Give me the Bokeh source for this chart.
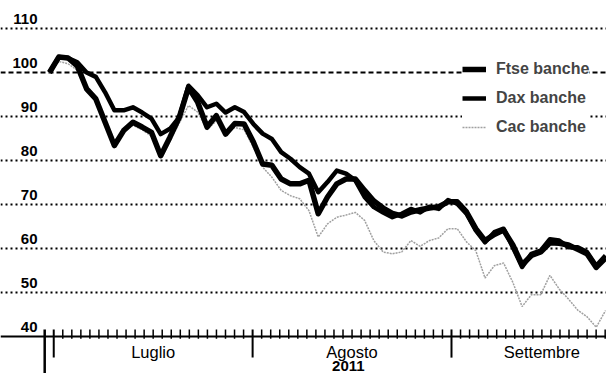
from bokeh.plotting import figure
from bokeh.models import Range1d, Legend, LegendItem, ColumnDataSource
from bokeh.core.properties import value
from bokeh.embed import file_html
from bokeh.resources import INLINE

# ---- data (index = trading day from 30 June 2011, base 100) ----
ftse = [100, 103.5, 103.3, 101.5, 96.3, 94, 88.7, 83.4, 86.8, 88.7,
        87.6, 86.4, 81.1, 85.3, 89.8, 96.6, 93.2, 87.6, 90.2, 86,
        88.4, 88.3, 84.2, 79.2, 78.9, 75.8, 74.7, 74.7, 75.5, 67.9,
        71.7, 74.7, 75.8, 75.8, 73.2, 70.8, 69.2, 68.0, 67.4, 68.3,
        68.8, 69.2, 69.5, 70.6, 70.6, 68.3, 64.5, 61.8, 63.2, 64.2,
        60.8, 56.3, 58.4, 59.2, 61.3, 61.2, 60.8, 59.8, 58.8, 55.7, 57.8]
dax = [100, 103.5, 103.3, 102.3, 100, 99, 95.5, 91.4, 91.4, 92.1,
       90.9, 89.5, 86, 87.2, 89.8, 97, 94.8, 92.1, 92.9, 90.9,
       92.1, 91, 88.3, 86.1, 84.9, 81.9, 80.4, 78.5, 77, 72.8,
       75.1, 77.7, 77, 75.5, 71.7, 69.4, 68.2, 67.1, 67.9, 69,
       68.2, 69.5, 69, 71, 70.2, 67.9, 64.1, 61.4, 63.7, 64.5,
       60.3, 55.8, 58.8, 59.5, 62.1, 61.8, 60.3, 60.3, 59.2, 56.1, 58.4]
cac = [100, 102.5, 102, 100.5, 97, 94.5, 89.5, 84.5, 86.5, 88,
       87, 85.5, 82, 84.5, 88.5, 92.5, 91, 87, 89, 86,
       87.5, 87, 83, 78.5, 76.2, 73.2, 72, 71.3, 68.6, 62.6,
       65.6, 67.1, 67.6, 68.2, 66.4, 61.8, 59.2, 58.8, 59.2, 61.8,
       60.5, 61.8, 62.4, 64.5, 64.5, 61.5, 59.5, 53.3, 56.1, 56.7,
       52.3, 46.8, 49.5, 49.5, 53.9, 50.8, 48.5, 46.0, 44.5, 42.1, 45.9]
days = list(range(len(ftse)))

y_ticks = [40, 50, 60, 70, 80, 90, 100, 110]
y_labels = ["40", "50", "60", "70", "80", "90", "100", "110"]
base_value = 100
months = ["Luglio", "Agosto", "Settembre"]
year = "2011"

FONT = "Liberation Sans"

# ---- figure ----
p = figure(width=606, height=373, output_backend="svg", toolbar_location=None,
           x_range=Range1d(-5.288, 60.106), y_range=Range1d(31.591, 116.364),
           min_border_left=0, min_border_right=0, min_border_top=0, min_border_bottom=0)
p.axis.visible = False
p.grid.visible = False
p.outline_line_color = None
p.background_fill_color = "white"

# gridlines
dotted = [v for v in y_ticks if v not in (y_ticks[0], base_value)]
p.hspan(y=dotted, line_color="black", line_width=2, line_dash="2 3")
p.hspan(y=[base_value], line_color="black", line_width=2, line_dash="5 3")
p.hspan(y=[y_ticks[0]], line_color="black", line_width=2)

# x ticks (one per trading day)
TICK0 = 0.457
STEP = 0.9755
n_ticks = 62
month_idx = [0, 22, 44]
minor_x = [TICK0 + k * STEP for k in range(n_ticks) if k not in month_idx]
p.segment(x0=minor_x, y0=[39.5] * len(minor_x), x1=minor_x, y1=[41.6] * len(minor_x),
          line_color="black", line_width=1.5)
major_x = [TICK0 + k * STEP for k in month_idx]
p.segment(x0=major_x, y0=[35.2] * 3, x1=major_x, y1=[41.6] * 3,
          line_color="black", line_width=2)
long_x = [TICK0 - STEP]
p.segment(x0=long_x, y0=[31.7], x1=long_x, y1=[41.6], line_color="black", line_width=2.5)

# month labels
bounds = month_idx + [64]
mx = [TICK0 + STEP * (bounds[i] + bounds[i + 1]) / 2 for i in range(3)]
p.text(x=mx, y=[36.5] * 3, text=months, text_align="center", text_baseline="middle",
       text_font=value(FONT), text_font_size=value("16.5px"), text_color="black")
p.text(x=[mx[1] - 0.4], y=[33.25], text=[year], text_align="center", text_baseline="middle",
       text_font=value(FONT), text_font_style="bold", text_font_size=value("15px"),
       text_color="black")

# y labels (sitting just above their gridline)
p.text(x=[-1.295] * len(y_ticks), y=y_ticks, text=y_labels, y_offset=-10,
       text_align="right", text_baseline="middle",
       text_font=value(FONT), text_font_style="bold", text_font_size=value("15px"),
       text_color="black")

# series
src = ColumnDataSource(dict(d=days, ftse=ftse, dax=dax, cac=cac))
r_cac = p.line("d", "cac", source=src, line_color="#a0a0a0", line_width=1.5, line_dash="2 1")
r_dax = p.line("d", "dax", source=src, line_color="black", line_width=4.5, line_join="round")
r_ftse = p.line("d", "ftse", source=src, line_color="black", line_width=5.5, line_join="round")

legend = Legend(items=[LegendItem(label="Ftse banche", renderers=[r_ftse]),
                       LegendItem(label="Dax banche", renderers=[r_dax]),
                       LegendItem(label="Cac banche", renderers=[r_cac])],
                location=(462, 235), border_line_color=None,
                background_fill_color="white", background_fill_alpha=1,
                label_text_font=FONT, label_text_font_style="bold",
                label_text_font_size="16px",
                glyph_width=24, glyph_height=22, label_height=22,
                spacing=7, padding=10, label_standoff=10, margin=0)
p.add_layout(legend)

open("out.html", "w").write(file_html(p, INLINE))
